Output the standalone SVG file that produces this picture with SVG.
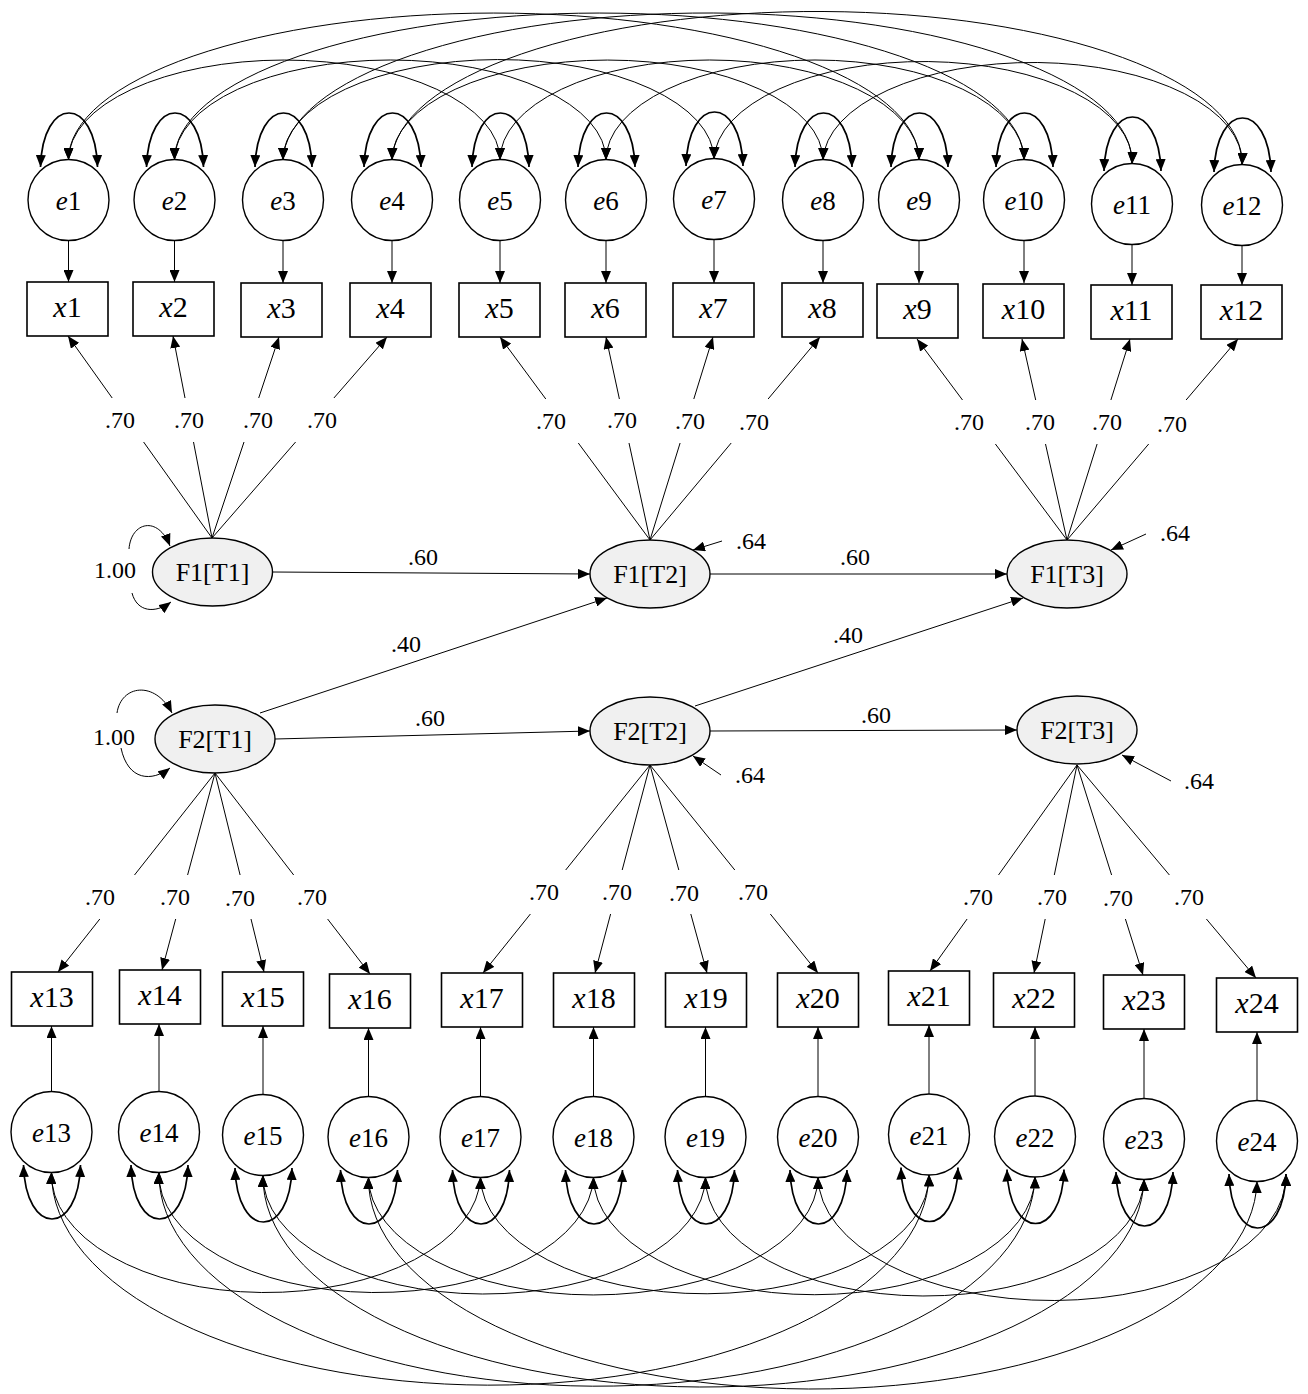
<svg xmlns="http://www.w3.org/2000/svg" width="1308" height="1394" viewBox="0 0 1308 1394">
<defs>
  <marker id="ah" viewBox="0 0 12 10" refX="12" refY="5" markerWidth="12" markerHeight="10" markerUnits="userSpaceOnUse" orient="auto-start-reverse">
    <path d="M0,0L12,5L0,10z" fill="#000"/>
  </marker>
</defs>
<style>
  text { font-family: "Liberation Serif", "Times New Roman", serif; fill: #000; }
  .obs rect { fill: #fff; stroke: #000; stroke-width: 1.6; }
  .err circle { fill: #fff; stroke: #000; stroke-width: 1.4; }
  .lat ellipse { fill: #f0f0f0; stroke: #000; stroke-width: 1.4; }
  .obs text { font-size: 30px; text-anchor: middle; }
  .err text { font-size: 27px; text-anchor: middle; }
  .lat text { font-size: 26px; text-anchor: middle; }
  .it { font-style: italic; }
  .c { fill: none; stroke: #000; stroke-width: 1; }
  .a { marker-end: url(#ah); }
  .b { marker-start: url(#ah); marker-end: url(#ah); }
  .loop { stroke-width: 1.7; }
  .lbl { font-size: 24px; text-anchor: middle; }
</style>

<!-- connectors -->
<g id="connectors">
  <!-- error variances (upper row) -->
  <path class="c b loop" d="M40.5,167 C42.5,95 95.5,95 97.5,167"/>
  <path class="c b loop" d="M146.5,167 C148.5,95 201.5,95 203.5,167"/>
  <path class="c b loop" d="M255,167 C257,95 310,95 312,167"/>
  <path class="c b loop" d="M364,167 C366,95 419,95 421,167"/>
  <path class="c b loop" d="M472,167 C474,95 527,95 529,167"/>
  <path class="c b loop" d="M578,167 C580,95 633,95 635,167"/>
  <path class="c b loop" d="M686,166 C688,94 741,94 743,166"/>
  <path class="c b loop" d="M795,167 C797,95 850,95 852,167"/>
  <path class="c b loop" d="M891,167 C893,95 946,95 948,167"/>
  <path class="c b loop" d="M996,167 C998,95 1051,95 1053,167"/>
  <path class="c b loop" d="M1104,171 C1106,99 1159,99 1161,171"/>
  <path class="c b loop" d="M1214,172 C1216,100 1269,100 1271,172"/>

  <!-- residual covariances (upper row) -->
  <path class="c b" d="M68.5,160 A215.75,100 0 0 1 500,160"/>
  <path class="c b" d="M174.5,160 A215.75,100 0 0 1 606,160"/>
  <path class="c b" d="M283,160 A215.5,100 0 0 1 714,159"/>
  <path class="c b" d="M392,160 A215.5,100 0 0 1 823,160"/>
  <path class="c b" d="M500,160 A209.5,100 0 0 1 919,160"/>
  <path class="c b" d="M606,160 A209,100 0 0 1 1024,160"/>
  <path class="c b" d="M714,159 A209,100 0 0 1 1132,164"/>
  <path class="c b" d="M823,160 A209.5,100 0 0 1 1242,165"/>
  <path class="c b" d="M68.5,160 A425.25,147 0 0 1 919,160"/>
  <path class="c b" d="M174.5,160 A424.75,147 0 0 1 1024,160"/>
  <path class="c b" d="M283,160 A424.5,149 0 0 1 1132,164"/>
  <path class="c b" d="M392,160 A425,151 0 0 1 1242,165"/>

  <!-- errors to indicators (upper row) -->
  <path class="c a" d="M68.5,240.5 L68.5,282"/>
  <path class="c a" d="M174.5,240.5 L174.5,282"/>
  <path class="c a" d="M283,240.5 L283,283"/>
  <path class="c a" d="M392,240.5 L392,283"/>
  <path class="c a" d="M500,240.5 L500,283"/>
  <path class="c a" d="M606,240.5 L606,283"/>
  <path class="c a" d="M714,239.5 L714,283"/>
  <path class="c a" d="M823,240.5 L823,283"/>
  <path class="c a" d="M919,240.5 L919,283"/>
  <path class="c a" d="M1024,240.5 L1024,283"/>
  <path class="c a" d="M1132,244.5 L1132,285"/>
  <path class="c a" d="M1242,245.5 L1242,285"/>

  <!-- loadings F1 -->
  <path class="c a" d="M212,538 L143.6,442 M112.2,398 L68,336"/>
  <path class="c a" d="M212,538 L193.5,442 M185,398 L173,336"/>
  <path class="c a" d="M212,538 L244,442 M258.7,398 L279,337"/>
  <path class="c a" d="M212,538 L295.6,442 M333.9,398 L387,337"/>
  <path class="c a" d="M650,540 L578.3,443 M545.8,399 L500,337"/>
  <path class="c a" d="M650,540 L629,443 M619.4,399 L606,337"/>
  <path class="c a" d="M650,540 L680.1,443 M693.8,399 L713,337"/>
  <path class="c a" d="M650,540 L731.2,443 M768.1,399 L820,337"/>
  <path class="c a" d="M1067,540 L995.4,444 M962.5,400 L917,339"/>
  <path class="c a" d="M1067,540 L1045.5,444 M1035.7,400 L1022,339"/>
  <path class="c a" d="M1067,540 L1097.1,444 M1110.9,400 L1130,339"/>
  <path class="c a" d="M1067,540 L1148.7,444 M1186.1,400 L1238,339"/>

  <!-- loadings F2 -->
  <path class="c a" d="M215,773 L134.5,875 M99.8,919 L58,972"/>
  <path class="c a" d="M215,773 L187.6,875 M175.7,919 L162,970"/>
  <path class="c a" d="M215,773 L240.1,875 M251,919 L264,972"/>
  <path class="c a" d="M215,773 L293.7,875 M327.6,919 L370,974"/>
  <path class="c a" d="M650,765 L565.7,870 M530.4,914 L483,973"/>
  <path class="c a" d="M650,765 L622.2,870 M610.6,914 L595,973"/>
  <path class="c a" d="M650,765 L678.8,870 M690.8,914 L707,973"/>
  <path class="c a" d="M650,765 L734.8,870 M770.3,914 L818,973"/>
  <path class="c a" d="M1077,765 L998.5,875 M967.1,919 L930,971"/>
  <path class="c a" d="M1077,765 L1054.3,875 M1045.2,919 L1034,973"/>
  <path class="c a" d="M1077,765 L1111.6,875 M1125.4,919 L1143,975"/>
  <path class="c a" d="M1077,765 L1169.4,875 M1206.4,919 L1256,978"/>

  <!-- factor variances -->
  <path class="c a" d="M129,549 C131,522 158,515 170,546"/>
  <path class="c a" d="M132,593 C137,612 155,614 171,602"/>
  <path class="c a" d="M117,713 C121,685 155,680 172,713"/>
  <path class="c a" d="M121,748 C128,781 152,782 170,768"/>

  <!-- structural paths -->
  <path class="c a" d="M272.5,572 L590,574"/>
  <path class="c a" d="M710,574 L1007,574"/>
  <path class="c a" d="M260,713 L607,598"/>
  <path class="c a" d="M695,706 L1023,598"/>
  <path class="c a" d="M275,739 L590,731"/>
  <path class="c a" d="M710,731 L1017,730"/>

  <!-- disturbances -->
  <path class="c a" d="M722,541 L693,550"/>
  <path class="c a" d="M1146,534 L1111,550"/>
  <path class="c a" d="M721,775 L693,756"/>
  <path class="c a" d="M1171,781 L1122,755"/>

  <!-- errors to indicators (lower row) -->
  <path class="c a" d="M51.5,1091.5 L51.5,1026"/>
  <path class="c a" d="M159,1091.5 L159,1024"/>
  <path class="c a" d="M263,1094.5 L263,1026"/>
  <path class="c a" d="M368.5,1096.5 L368.5,1028"/>
  <path class="c a" d="M480.5,1096.5 L480.5,1027"/>
  <path class="c a" d="M593.5,1096.5 L593.5,1027"/>
  <path class="c a" d="M705.5,1096.5 L705.5,1027"/>
  <path class="c a" d="M818,1096.5 L818,1027"/>
  <path class="c a" d="M929,1094 L929,1025"/>
  <path class="c a" d="M1035,1096 L1035,1027"/>
  <path class="c a" d="M1144,1098.5 L1144,1029"/>
  <path class="c a" d="M1257,1100.5 L1257,1032"/>

  <!-- error variances (lower row) -->
  <path class="c b loop" d="M23.5,1165 C25.5,1237 78.5,1237 80.5,1165"/>
  <path class="c b loop" d="M131,1165 C133,1237 186,1237 188,1165"/>
  <path class="c b loop" d="M235,1168 C237,1240 290,1240 292,1168"/>
  <path class="c b loop" d="M340.5,1170 C342.5,1242 395.5,1242 397.5,1170"/>
  <path class="c b loop" d="M452.5,1170 C454.5,1242 507.5,1242 509.5,1170"/>
  <path class="c b loop" d="M565.5,1170 C567.5,1242 620.5,1242 622.5,1170"/>
  <path class="c b loop" d="M677.5,1170 C679.5,1242 732.5,1242 734.5,1170"/>
  <path class="c b loop" d="M790,1170 C792,1242 845,1242 847,1170"/>
  <path class="c b loop" d="M901,1167.5 C903,1239.5 956,1239.5 958,1167.5"/>
  <path class="c b loop" d="M1007,1169.5 C1009,1241.5 1062,1241.5 1064,1169.5"/>
  <path class="c b loop" d="M1116,1172 C1118,1244 1171,1244 1173,1172"/>
  <path class="c b loop" d="M1229,1174 C1231,1246 1284,1246 1286,1174"/>

  <!-- residual covariances (lower row) -->
  <path class="c b" d="M51.5,1172 A214.5,118 0 0 0 480.5,1177"/>
  <path class="c b" d="M159,1172 A217.25,118 0 0 0 593.5,1177"/>
  <path class="c b" d="M263,1175 A221.25,118 0 0 0 705.5,1177"/>
  <path class="c b" d="M368.5,1177 A224.75,118 0 0 0 818,1177"/>
  <path class="c b" d="M480.5,1177 A224.25,118 0 0 0 929,1174.5"/>
  <path class="c b" d="M593.5,1177 A220.75,118 0 0 0 1035,1176.5"/>
  <path class="c b" d="M705.5,1177 A219.25,118 0 0 0 1144,1179"/>
  <path class="c b" d="M818,1177 A234,125 0 0 0 1286,1174"/>
  <path class="c b" d="M51.5,1172 A438.75,212 0 0 0 929,1174.5"/>
  <path class="c b" d="M159,1172 A438,212 0 0 0 1035,1176.5"/>
  <path class="c b" d="M263,1175 A440.5,210 0 0 0 1144,1179"/>
  <path class="c b" d="M368.5,1177 A444.25,210 0 0 0 1257,1181"/>
</g>

<!-- coefficient labels -->
<g id="labels" class="lbl">
  <text class="lbl" x="120" y="428">.70</text>
  <text class="lbl" x="189" y="428">.70</text>
  <text class="lbl" x="258" y="428">.70</text>
  <text class="lbl" x="322" y="428">.70</text>
  <text class="lbl" x="551" y="429">.70</text>
  <text class="lbl" x="622" y="428">.70</text>
  <text class="lbl" x="690" y="429">.70</text>
  <text class="lbl" x="754" y="430">.70</text>
  <text class="lbl" x="969" y="430">.70</text>
  <text class="lbl" x="1040" y="430">.70</text>
  <text class="lbl" x="1107" y="430">.70</text>
  <text class="lbl" x="1172" y="432">.70</text>

  <text class="lbl" x="100" y="905">.70</text>
  <text class="lbl" x="175" y="905">.70</text>
  <text class="lbl" x="240" y="906">.70</text>
  <text class="lbl" x="312" y="905">.70</text>
  <text class="lbl" x="544" y="900">.70</text>
  <text class="lbl" x="617" y="900">.70</text>
  <text class="lbl" x="684" y="901">.70</text>
  <text class="lbl" x="753" y="900">.70</text>
  <text class="lbl" x="978" y="905">.70</text>
  <text class="lbl" x="1052" y="905">.70</text>
  <text class="lbl" x="1118" y="906">.70</text>
  <text class="lbl" x="1189" y="905">.70</text>

  <text class="lbl" x="115" y="578">1.00</text>
  <text class="lbl" x="114" y="745">1.00</text>
  <text class="lbl" x="423" y="565">.60</text>
  <text class="lbl" x="855" y="565">.60</text>
  <text class="lbl" x="406" y="652">.40</text>
  <text class="lbl" x="848" y="643">.40</text>
  <text class="lbl" x="430" y="726">.60</text>
  <text class="lbl" x="876" y="723">.60</text>
  <text class="lbl" x="751" y="549">.64</text>
  <text class="lbl" x="1175" y="541">.64</text>
  <text class="lbl" x="750" y="783">.64</text>
  <text class="lbl" x="1199" y="789">.64</text>
</g>

<!-- latent factors -->
<g id="F1T1" class="lat"><ellipse cx="212.5" cy="572" rx="60" ry="34"/><text x="212.5" y="581">F1[T1]</text></g>
<g id="F1T2" class="lat"><ellipse cx="650" cy="574" rx="60" ry="34"/><text x="650" y="583">F1[T2]</text></g>
<g id="F1T3" class="lat"><ellipse cx="1067" cy="574" rx="60" ry="34"/><text x="1067" y="583">F1[T3]</text></g>
<g id="F2T1" class="lat"><ellipse cx="215" cy="739" rx="60" ry="34"/><text x="215" y="748">F2[T1]</text></g>
<g id="F2T2" class="lat"><ellipse cx="650" cy="731" rx="60" ry="34"/><text x="650" y="740">F2[T2]</text></g>
<g id="F2T3" class="lat"><ellipse cx="1077" cy="730" rx="60" ry="34"/><text x="1077" y="739">F2[T3]</text></g>

<!-- indicators, upper row -->
<g id="x1" class="obs"><rect x="27" y="282" width="81" height="54"/><text x="67.5" y="317"><tspan class="it">x</tspan>1</text></g>
<g id="x2" class="obs"><rect x="133" y="282" width="81" height="54"/><text x="173.5" y="317"><tspan class="it">x</tspan>2</text></g>
<g id="x3" class="obs"><rect x="241" y="283" width="81" height="54"/><text x="281.5" y="318"><tspan class="it">x</tspan>3</text></g>
<g id="x4" class="obs"><rect x="350" y="283" width="81" height="54"/><text x="390.5" y="318"><tspan class="it">x</tspan>4</text></g>
<g id="x5" class="obs"><rect x="459" y="283" width="81" height="54"/><text x="499.5" y="318"><tspan class="it">x</tspan>5</text></g>
<g id="x6" class="obs"><rect x="565" y="283" width="81" height="54"/><text x="605.5" y="318"><tspan class="it">x</tspan>6</text></g>
<g id="x7" class="obs"><rect x="673" y="283" width="81" height="54"/><text x="713.5" y="318"><tspan class="it">x</tspan>7</text></g>
<g id="x8" class="obs"><rect x="782" y="283" width="81" height="54"/><text x="822.5" y="318"><tspan class="it">x</tspan>8</text></g>
<g id="x9" class="obs"><rect x="877" y="284" width="81" height="54"/><text x="917.5" y="319"><tspan class="it">x</tspan>9</text></g>
<g id="x10" class="obs"><rect x="983" y="284" width="81" height="54"/><text x="1023.5" y="319"><tspan class="it">x</tspan>10</text></g>
<g id="x11" class="obs"><rect x="1091" y="285" width="81" height="54"/><text x="1131.5" y="320"><tspan class="it">x</tspan>11</text></g>
<g id="x12" class="obs"><rect x="1201" y="285" width="81" height="54"/><text x="1241.5" y="320"><tspan class="it">x</tspan>12</text></g>

<!-- indicators, lower row -->
<g id="x13" class="obs"><rect x="11.5" y="972" width="81" height="54"/><text x="52" y="1007"><tspan class="it">x</tspan>13</text></g>
<g id="x14" class="obs"><rect x="119.5" y="970" width="81" height="54"/><text x="160" y="1005"><tspan class="it">x</tspan>14</text></g>
<g id="x15" class="obs"><rect x="222.5" y="972" width="81" height="54"/><text x="263" y="1007"><tspan class="it">x</tspan>15</text></g>
<g id="x16" class="obs"><rect x="329.5" y="974" width="81" height="54"/><text x="370" y="1009"><tspan class="it">x</tspan>16</text></g>
<g id="x17" class="obs"><rect x="441.5" y="973" width="81" height="54"/><text x="482" y="1008"><tspan class="it">x</tspan>17</text></g>
<g id="x18" class="obs"><rect x="553.5" y="973" width="81" height="54"/><text x="594" y="1008"><tspan class="it">x</tspan>18</text></g>
<g id="x19" class="obs"><rect x="665.5" y="973" width="81" height="54"/><text x="706" y="1008"><tspan class="it">x</tspan>19</text></g>
<g id="x20" class="obs"><rect x="777.5" y="973" width="81" height="54"/><text x="818" y="1008"><tspan class="it">x</tspan>20</text></g>
<g id="x21" class="obs"><rect x="888.5" y="971" width="81" height="54"/><text x="929" y="1006"><tspan class="it">x</tspan>21</text></g>
<g id="x22" class="obs"><rect x="993.5" y="973" width="81" height="54"/><text x="1034" y="1008"><tspan class="it">x</tspan>22</text></g>
<g id="x23" class="obs"><rect x="1103.5" y="975" width="81" height="54"/><text x="1144" y="1010"><tspan class="it">x</tspan>23</text></g>
<g id="x24" class="obs"><rect x="1216.5" y="978" width="81" height="54"/><text x="1257" y="1013"><tspan class="it">x</tspan>24</text></g>

<!-- residuals, upper row -->
<g id="e1" class="err"><circle cx="68.5" cy="200" r="40.5"/><text x="68.5" y="210"><tspan class="it">e</tspan>1</text></g>
<g id="e2" class="err"><circle cx="174.5" cy="200" r="40.5"/><text x="174.5" y="210"><tspan class="it">e</tspan>2</text></g>
<g id="e3" class="err"><circle cx="283" cy="200" r="40.5"/><text x="283" y="210"><tspan class="it">e</tspan>3</text></g>
<g id="e4" class="err"><circle cx="392" cy="200" r="40.5"/><text x="392" y="210"><tspan class="it">e</tspan>4</text></g>
<g id="e5" class="err"><circle cx="500" cy="200" r="40.5"/><text x="500" y="210"><tspan class="it">e</tspan>5</text></g>
<g id="e6" class="err"><circle cx="606" cy="200" r="40.5"/><text x="606" y="210"><tspan class="it">e</tspan>6</text></g>
<g id="e7" class="err"><circle cx="714" cy="199" r="40.5"/><text x="714" y="209"><tspan class="it">e</tspan>7</text></g>
<g id="e8" class="err"><circle cx="823" cy="200" r="40.5"/><text x="823" y="210"><tspan class="it">e</tspan>8</text></g>
<g id="e9" class="err"><circle cx="919" cy="200" r="40.5"/><text x="919" y="210"><tspan class="it">e</tspan>9</text></g>
<g id="e10" class="err"><circle cx="1024" cy="200" r="40.5"/><text x="1024" y="210"><tspan class="it">e</tspan>10</text></g>
<g id="e11" class="err"><circle cx="1132" cy="204" r="40.5"/><text x="1132" y="214"><tspan class="it">e</tspan>11</text></g>
<g id="e12" class="err"><circle cx="1242" cy="205" r="40.5"/><text x="1242" y="215"><tspan class="it">e</tspan>12</text></g>

<!-- residuals, lower row -->
<g id="e13" class="err"><circle cx="51.5" cy="1132" r="40.5"/><text x="51.5" y="1142"><tspan class="it">e</tspan>13</text></g>
<g id="e14" class="err"><circle cx="159" cy="1132" r="40.5"/><text x="159" y="1142"><tspan class="it">e</tspan>14</text></g>
<g id="e15" class="err"><circle cx="263" cy="1135" r="40.5"/><text x="263" y="1145"><tspan class="it">e</tspan>15</text></g>
<g id="e16" class="err"><circle cx="368.5" cy="1137" r="40.5"/><text x="368.5" y="1147"><tspan class="it">e</tspan>16</text></g>
<g id="e17" class="err"><circle cx="480.5" cy="1137" r="40.5"/><text x="480.5" y="1147"><tspan class="it">e</tspan>17</text></g>
<g id="e18" class="err"><circle cx="593.5" cy="1137" r="40.5"/><text x="593.5" y="1147"><tspan class="it">e</tspan>18</text></g>
<g id="e19" class="err"><circle cx="705.5" cy="1137" r="40.5"/><text x="705.5" y="1147"><tspan class="it">e</tspan>19</text></g>
<g id="e20" class="err"><circle cx="818" cy="1137" r="40.5"/><text x="818" y="1147"><tspan class="it">e</tspan>20</text></g>
<g id="e21" class="err"><circle cx="929" cy="1134.5" r="40.5"/><text x="929" y="1144.5"><tspan class="it">e</tspan>21</text></g>
<g id="e22" class="err"><circle cx="1035" cy="1136.5" r="40.5"/><text x="1035" y="1146.5"><tspan class="it">e</tspan>22</text></g>
<g id="e23" class="err"><circle cx="1144" cy="1139" r="40.5"/><text x="1144" y="1149"><tspan class="it">e</tspan>23</text></g>
<g id="e24" class="err"><circle cx="1257" cy="1141" r="40.5"/><text x="1257" y="1151"><tspan class="it">e</tspan>24</text></g>
</svg>
